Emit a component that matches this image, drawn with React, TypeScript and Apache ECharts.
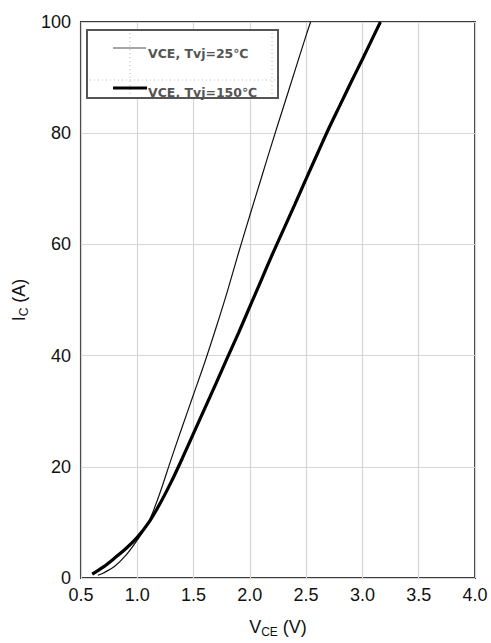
import React, { useEffect, useRef } from "react";
import * as echarts from "echarts";

const vce25: number[] = [0.65, 0.7, 0.8, 0.9, 1.0, 1.1, 1.2, 1.3, 1.4, 1.5, 1.6, 1.7, 1.8, 1.9, 2.0, 2.1, 2.2, 2.3, 2.4, 2.5, 2.54];
const ic25: number[] = [0.5, 0.9, 2.1, 4.1, 6.8, 10.0, 15.2, 21.3, 27.2, 33.0, 38.8, 45.0, 51.5, 58.5, 65.2, 71.8, 78.4, 84.8, 91.2, 97.6, 100];
const vce150: number[] = [0.6, 0.7, 0.8, 0.9, 1.0, 1.1, 1.2, 1.3, 1.4, 1.5, 1.6, 1.7, 1.8, 1.9, 2.0, 2.1, 2.2, 2.3, 2.4, 2.5, 2.6, 2.7, 2.8, 2.9, 3.0, 3.1, 3.16];
const ic150: number[] = [0.7, 2.0, 3.6, 5.3, 7.3, 9.9, 13.3, 17.2, 21.5, 26.0, 30.5, 35.0, 39.6, 44.1, 48.8, 53.5, 58.2, 62.7, 67.2, 71.8, 76.3, 80.8, 85.0, 89.2, 93.3, 97.5, 100];
const legendNames: string[] = ["VCE, Tvj=25℃", "VCE, Tvj=150℃"];

export default function App() {
  const ref = useRef<HTMLDivElement>(null);
  useEffect(() => {
    if (!ref.current) return;
    const chart = echarts.init(ref.current, null, { renderer: "svg" });
    const axisFont = "'Liberation Sans', Arial, sans-serif";
    chart.setOption({
      animation: false,
      backgroundColor: "#ffffff",
      grid: {
        left: 79,
        right: 16,
        top: 22,
        bottom: 55,
        show: true,
        borderColor: "#3a3a3a",
        borderWidth: 2,
        backgroundColor: "transparent",
      },
      xAxis: {
        type: "value",
        min: 0.5,
        max: 4.0,
        interval: 0.5,
        axisLine: { show: false },
        axisTick: { show: false },
        splitLine: { show: true, lineStyle: { color: "#d6d6d6", width: 1.2 } },
        axisLabel: {
          fontFamily: axisFont,
          fontSize: 18,
          color: "#111",
          margin: 8,
          formatter: (v: number) => v.toFixed(1),
        },
        name: "{v|V}{s|CE}{v| (V)}",
        nameLocation: "middle",
        nameGap: 38,
        nameTextStyle: {
          rich: {
            v: { fontFamily: axisFont, fontSize: 18, color: "#111", lineHeight: 22, verticalAlign: "middle" },
            s: { fontFamily: axisFont, fontSize: 12, color: "#111", lineHeight: 22, verticalAlign: "bottom", padding: [10, 0, 0, 0] },
          },
        },
      },
      yAxis: {
        type: "value",
        min: 0,
        max: 100,
        interval: 20,
        axisLine: { show: false },
        axisTick: { show: false },
        splitLine: { show: true, lineStyle: { color: "#d6d6d6", width: 1.2 } },
        axisLabel: {
          fontFamily: axisFont,
          fontSize: 18,
          color: "#111",
          margin: 10,
        },
        name: "{v|I}{s|C}{v| (A)}",
        nameLocation: "middle",
        nameGap: 50,
        nameRotate: 90,
        nameTextStyle: {
          rich: {
            v: { fontFamily: axisFont, fontSize: 18, color: "#111", lineHeight: 22, verticalAlign: "middle" },
            s: { fontFamily: axisFont, fontSize: 12, color: "#111", lineHeight: 22, verticalAlign: "bottom", padding: [10, 0, 0, 0] },
          },
        },
      },
      series: [
        {
          name: legendNames[0],
          type: "line",
          data: vce25.map((v, i) => [v, ic25[i]]),
          smooth: 0.3,
          showSymbol: false,
          lineStyle: { color: "#111", width: 1.2 },
          z: 3,
        },
        {
          name: legendNames[1],
          type: "line",
          data: vce150.map((v, i) => [v, ic150[i]]),
          smooth: 0.3,
          showSymbol: false,
          lineStyle: { color: "#000", width: 3.2 },
          z: 4,
        },
      ],
      graphic: [
        {
          type: "rect",
          shape: { x: 87, y: 30, width: 191, height: 68 },
          style: { fill: "#ffffff", stroke: "#555", lineWidth: 2 },
          z: 10,
        },
        {
          type: "line",
          shape: { x1: 130, y1: 33, x2: 130, y2: 96 },
          style: { stroke: "#bbb", lineWidth: 1, lineDash: [1, 3] },
          z: 11,
        },
        {
          type: "line",
          shape: { x1: 272, y1: 33, x2: 272, y2: 96 },
          style: { stroke: "#bbb", lineWidth: 1, lineDash: [1, 3] },
          z: 11,
        },
        {
          type: "line",
          shape: { x1: 90, y1: 80, x2: 275, y2: 80 },
          style: { stroke: "#bbb", lineWidth: 1, lineDash: [1, 3] },
          z: 11,
        },
        {
          type: "line",
          shape: { x1: 113, y1: 48, x2: 146, y2: 48 },
          style: { stroke: "#888", lineWidth: 1.5 },
          z: 12,
        },
        {
          type: "line",
          shape: { x1: 113, y1: 88, x2: 147, y2: 88 },
          style: { stroke: "#000", lineWidth: 3 },
          z: 12,
        },
        {
          type: "text",
          x: 148,
          y: 53,
          style: {
            text: legendNames[0],
            fill: "#555",
            font: "bold 12.5px 'DejaVu Sans', sans-serif",
            verticalAlign: "middle",
          },
          z: 12,
        },
        {
          type: "text",
          x: 148,
          y: 92,
          style: {
            text: legendNames[1],
            fill: "#555",
            font: "bold 12.5px 'DejaVu Sans', sans-serif",
            verticalAlign: "middle",
          },
          z: 12,
        },
      ],
    });
    return () => chart.dispose();
  }, []);
  return (
    <div
      ref={ref}
      style={{ position: "absolute", left: 0, top: 0, width: 491, height: 643 }}
    />
  );
}
